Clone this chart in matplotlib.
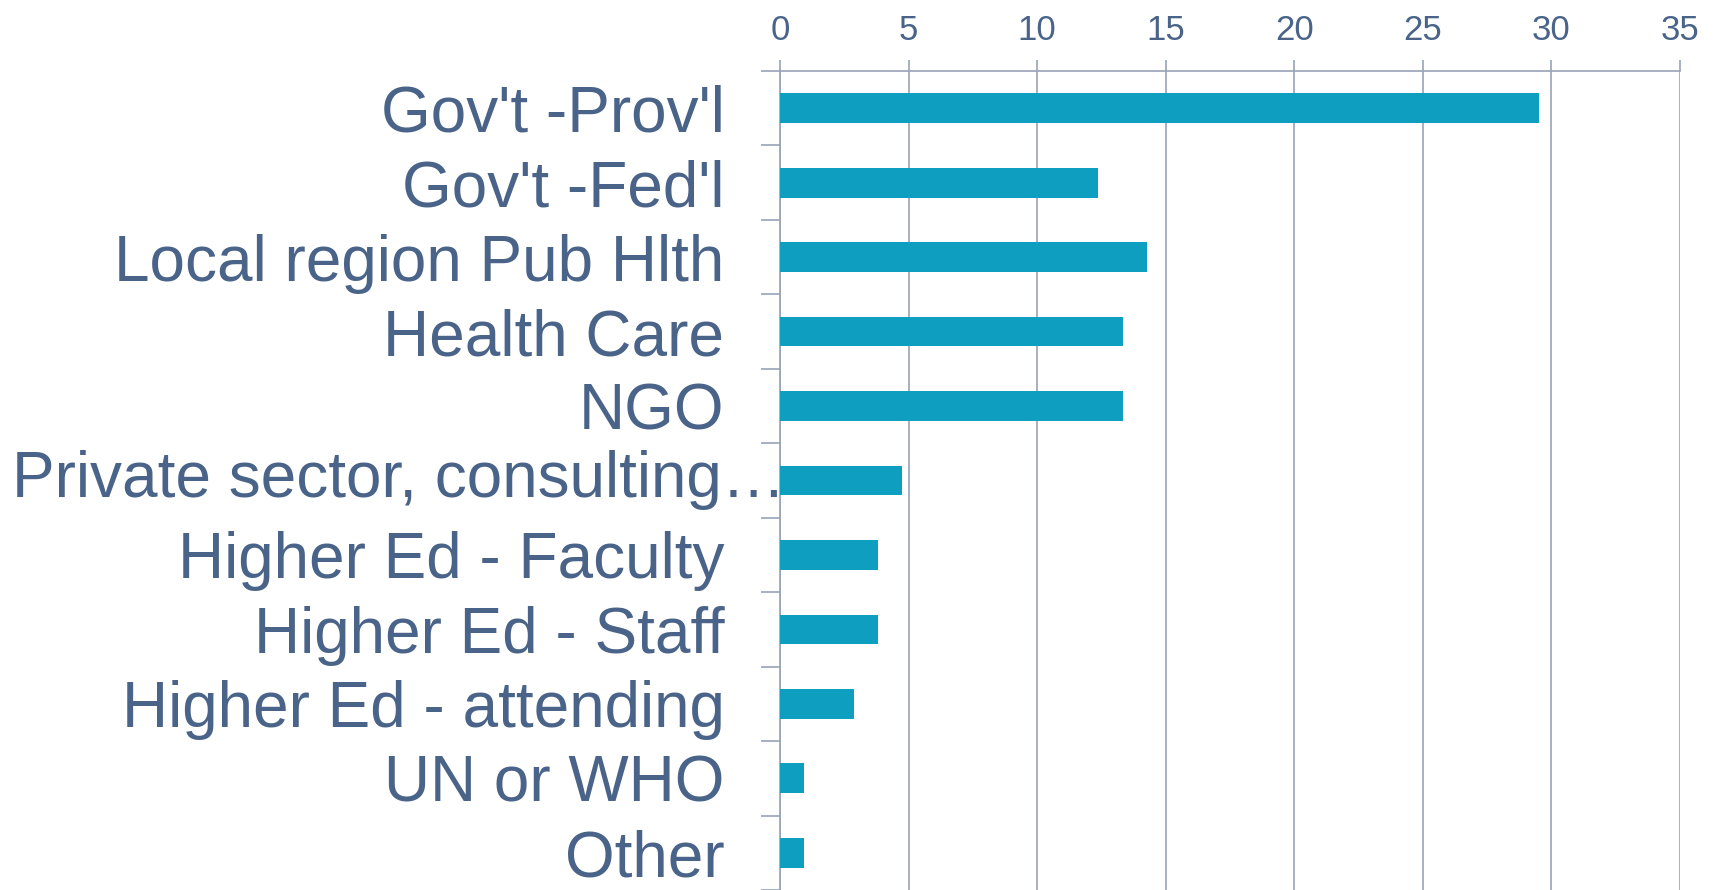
import numpy as np
import matplotlib.pyplot as plt
from matplotlib.transforms import ScaledTranslation

plt.rcParams['font.family'] = ['Liberation Sans', 'DejaVu Sans']

categories = ["Gov't -Prov'l", "Gov't -Fed'l", "Local region Pub Hlth", "Health Care", "NGO",
              "Private sector, consulting\u2026", "Higher Ed - Faculty", "Higher Ed - Staff",
              "Higher Ed - attending", "UN or WHO", "Other"]
values = [29.52, 12.38, 14.29, 13.33, 13.33, 4.76, 3.81, 3.81, 2.86, 0.95, 0.95]
xticks = [0, 5, 10, 15, 20, 25, 30, 35]

text_col = '#4A6489'
axis_col = '#98A3B6'
bar_col = '#0E9EC0'

fig = plt.figure(figsize=(17.18, 8.9), dpi=100)
ax = fig.add_axes([780 / 1718, 0, 900 / 1718, 1 - 71 / 890])

y = np.arange(len(categories))
ax.barh(y, values, height=0.4, color=bar_col, zorder=3)

ax.set_xlim(0, 35)
ax.set_ylim(len(categories) - 0.5, -0.5)

ax.xaxis.tick_top()
ax.set_xticks(xticks)
ax.set_xticklabels([str(t) for t in xticks])
ax.tick_params(axis='x', which='major', length=8, width=1.2, color=axis_col,
               labelsize=25, labelcolor=text_col, pad=9)
ax.grid(axis='x', color=axis_col, linewidth=1.2, zorder=0)

# labels at bar centres, tick marks at category boundaries
ax.set_yticks(y)
labels = list(categories)
labels[5] = ''
ax.set_yticklabels(labels)
ax.set_yticks(np.arange(len(categories) + 1) - 0.5, minor=True)
ax.tick_params(axis='y', which='major', length=0, labelsize=46, labelcolor=text_col, pad=40)
ax.tick_params(axis='y', which='minor', length=13.5, width=1.2, color=axis_col)

# the long label is cut off in the original and runs up to the axis
off = ScaledTranslation(6 / 100, 0, fig.dpi_scale_trans)
ax.text(0, 5, categories[5], transform=ax.get_yaxis_transform() + off,
        ha='right', va='center', fontsize=46, color=text_col)

for s in ['bottom', 'right']:
    ax.spines[s].set_visible(False)
for s in ['top', 'left']:
    ax.spines[s].set_color(axis_col)
    ax.spines[s].set_linewidth(1.2)

fig.savefig('out.png', dpi=100)
